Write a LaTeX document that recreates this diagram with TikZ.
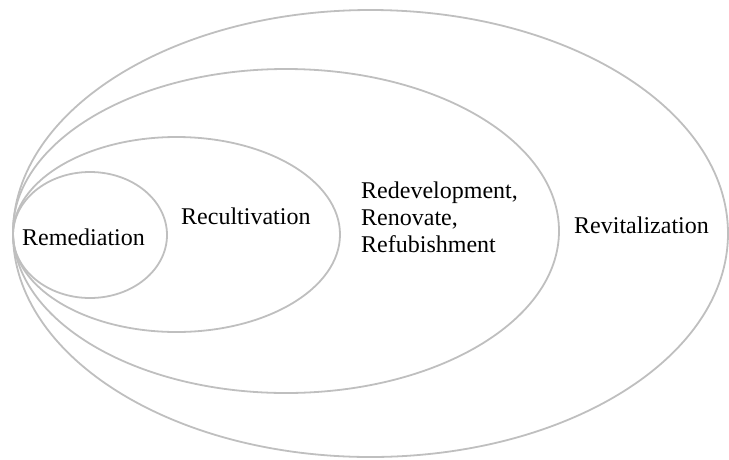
\documentclass[tikz,border=0pt]{standalone}
\usepackage{fontspec}
\setmainfont{Liberation Serif}
\begin{document}
\begin{tikzpicture}[x=1pt,y=-1pt,
  ring/.style={draw=black!25, line width=1.8pt},
  lbl/.style={font=\fontsize{24}{27}\selectfont, inner sep=0pt, anchor=base west, align=left}]
\useasboundingbox (0,0) rectangle (729,459);
\draw[ring] (370.5,233.5) ellipse [x radius=357.5, y radius=223.5];
\draw[ring] (286,231) ellipse [x radius=273, y radius=162];
\draw[ring] (176.5,234.5) ellipse [x radius=163.5, y radius=97.5];
\draw[ring] (90,235) ellipse [x radius=77, y radius=63];
\node[lbl] (rem) at (22,245) {Remediation};
\node[lbl] (rec) at (181,224) {Recultivation};
\node[lbl] (red) at (361,252) {Redevelopment,\\Renovate,\\Refubishment};
\node[lbl] (rev) at (574,233) {Revitalization};
\end{tikzpicture}
\end{document}
